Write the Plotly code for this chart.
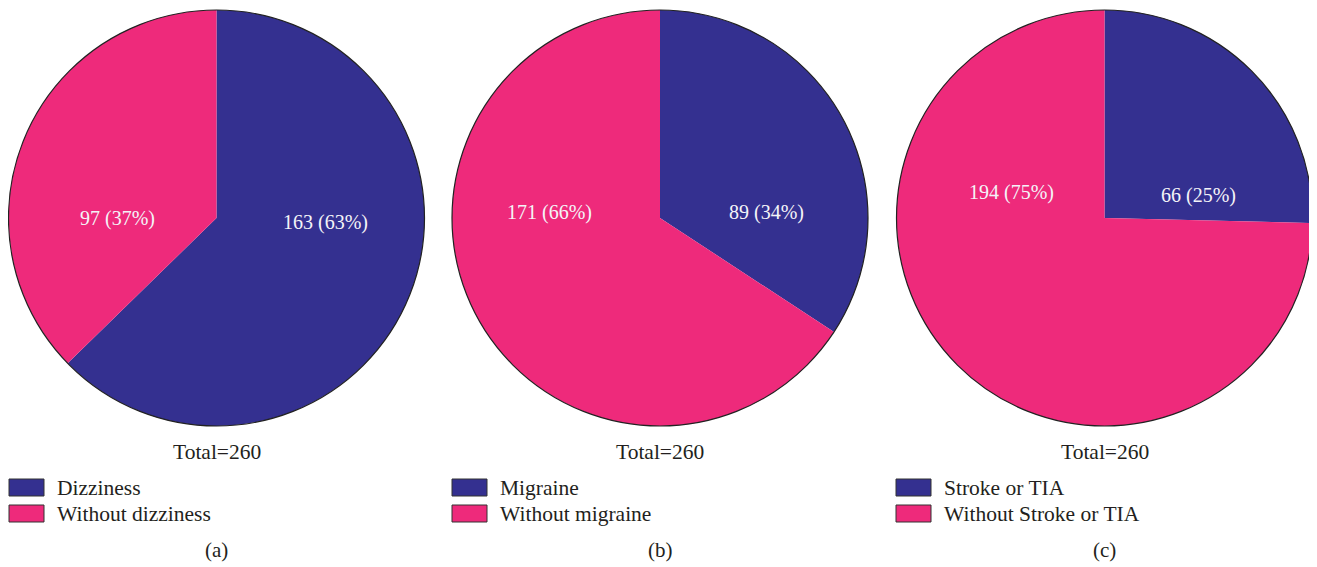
import plotly.graph_objects as go

W, H = 1317, 567

# ---- data ----
panel_tags = ["(a)", "(b)", "(c)"]
labels_a = ["Dizziness", "Without dizziness"]
values_a = [163, 97]
labels_b = ["Migraine", "Without migraine"]
values_b = [89, 171]
labels_c = ["Stroke or TIA", "Without Stroke or TIA"]
values_c = [66, 194]
colors = ["#343090", "#EE2A7B"]

panels = [(labels_a, values_a), (labels_b, values_b), (labels_c, values_c)]

# ---- layout geometry (pixels, page coordinates) ----
centers_x = [216.5, 660, 1104.5]
center_y = 218
radius = 208
# label anchor offsets (pixels relative to pie center) for [first slice, second slice]
label_offsets = [
    [(109, 4), (-99, 0)],
    [(106, -6), (-111, -6)],
    [(94, -23), (-93, -25)],
]
legend_x = [9, 452, 896]

PAGE_OFFSET = 8  # browser body margin
FONT = "Liberation Serif"
TXT = "#231f20"


def px(x):
    return (x - PAGE_OFFSET) / W


def py(y):
    return 1 - (y - PAGE_OFFSET) / H


fig = go.Figure()
shapes = []
annotations = []

for i, ((labs, vals), cx) in enumerate(zip(panels, centers_x)):
    total = sum(vals)
    fig.add_trace(go.Pie(
        labels=labs, values=vals, sort=False, direction="clockwise", rotation=0,
        marker=dict(colors=colors, line=dict(width=0)),
        textinfo="none", hoverinfo="label+value+percent", showlegend=False,
        domain=dict(x=[px(cx - radius), px(cx + radius)],
                    y=[py(center_y + radius), py(center_y - radius)]),
    ))
    # outline circle
    shapes.append(dict(type="circle", xref="paper", yref="paper",
                       x0=px(cx - radius), x1=px(cx + radius),
                       y0=py(center_y + radius), y1=py(center_y - radius),
                       line=dict(color="#222222", width=1.2), fillcolor="rgba(0,0,0,0)"))
    # slice labels
    for j, v in enumerate(vals):
        dx, dy = label_offsets[i][j]
        annotations.append(dict(
            x=px(cx + dx), y=py(center_y + dy), xref="paper", yref="paper",
            text=f"{v} ({round(100 * v / total)}%)", showarrow=False,
            font=dict(family=FONT, size=20, color="#f4f4f8"),
            xanchor="center", yanchor="middle"))
    # total
    annotations.append(dict(
        x=px(cx), y=py(452), xref="paper", yref="paper", text=f"Total={total}",
        showarrow=False, font=dict(family=FONT, size=21.5, color=TXT),
        xanchor="center", yanchor="middle"))
    # panel tag
    annotations.append(dict(
        x=px(cx), y=py(550), xref="paper", yref="paper", text=panel_tags[i],
        showarrow=False, font=dict(family=FONT, size=21, color=TXT),
        xanchor="center", yanchor="middle"))
    # legend
    lx = legend_x[i]
    for j, lab in enumerate(labs):
        y0 = 479 + j * 26
        shapes.append(dict(type="rect", xref="paper", yref="paper",
                           x0=px(lx), x1=px(lx + 35), y0=py(y0 + 17), y1=py(y0),
                           fillcolor=colors[j], line=dict(color="#333333", width=1)))
        annotations.append(dict(
            x=px(lx + 46), y=py(y0 + 8.5), xref="paper", yref="paper", text=lab,
            showarrow=False, font=dict(family=FONT, size=21.5, color=TXT),
            xanchor="left", yanchor="middle"))

fig.update_layout(
    width=W, height=H, margin=dict(l=0, r=0, t=0, b=0),
    paper_bgcolor="white", plot_bgcolor="white",
    shapes=shapes, annotations=annotations,
)

fig.write_html("out.html")
